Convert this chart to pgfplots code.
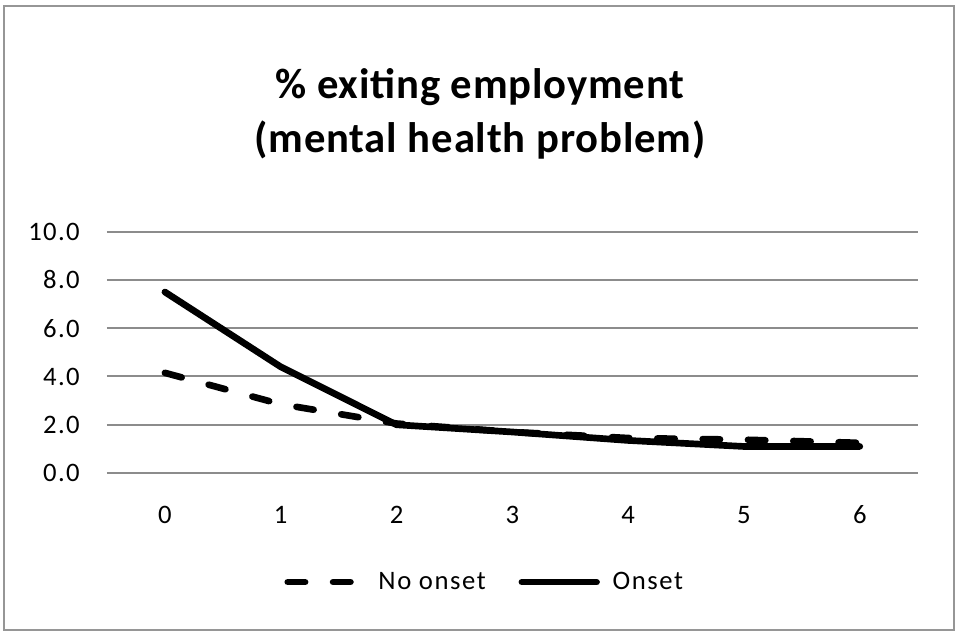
\documentclass[border=0pt]{standalone}
\usepackage{fontspec}
\setmainfont{Carlito}
\usepackage{pgfplots}
\pgfplotsset{compat=1.18}
\definecolor{gridgray}{RGB}{140,140,140}
\definecolor{framegray}{RGB}{150,150,150}

\begin{document}
\begin{tikzpicture}[x=0.75pt,y=-0.75pt]
% page = 960 x 640 px
\path (0,0) rectangle (960,640);
\draw[framegray, line width=1.6pt] (4,6) rectangle (954,630);

\node[align=center, font=\fontsize{32}{40}\selectfont\bfseries\addfontfeature{LetterSpace=2}] at (480,114)
  {\% exiting employment\\(mental health problem)};

\begin{axis}[
    at={(80.25pt,-354.75pt)}, anchor=south west,
    scale only axis,
    width=608pt, height=181pt,
    xmin=-0.5, xmax=6.5,
    ymin=0, ymax=10,
    xtick={0,...,6},
    ytick={0,2,...,10},
    axis line style={draw=none},
    major tick length=0pt,
    ymajorgrids,
    grid style={gridgray, line width=1.5pt},
    tick label style={font=\fontsize{20}{24}\selectfont\addfontfeature{LetterSpace=5}},
    /pgf/number format/assume math mode=true,
    yticklabel={\pgfmathprintnumber[fixed,fixed zerofill,precision=1]{\tick}},
    yticklabel style={xshift=-17pt},
    xticklabel style={anchor=base, yshift=-38pt},
    legend columns=2,
    legend style={draw=none, at={(0.466,-0.452)}, anchor=center,
        font=\fontsize{20}{24}\selectfont\addfontfeature{LetterSpace=6},
        /tikz/every odd column/.append style={column sep=6pt},
        /tikz/every even column/.append style={column sep=22pt}},
    legend image code/.code={\draw[#1] (0pt,0pt) -- (56pt,0pt);
        \path[draw=none,fill=none] (-3pt,-3pt) rectangle (60pt,3pt);},
    clip=false,
]
\addplot[black, line width=5pt, line cap=round, dash pattern=on 13pt off 21pt] coordinates {
    (0,4.15) (1,2.85) (2,2.05) (3,1.7) (4,1.45) (5,1.38) (6,1.25)
};
\addlegendentry{No onset}
\addplot[black, line width=5pt, line cap=round, line join=round] coordinates {
    (0,7.5) (1,4.4) (2,2.0) (3,1.7) (4,1.35) (5,1.1) (6,1.1)
};
\addlegendentry{Onset}
\end{axis}
\end{tikzpicture}
\end{document}
